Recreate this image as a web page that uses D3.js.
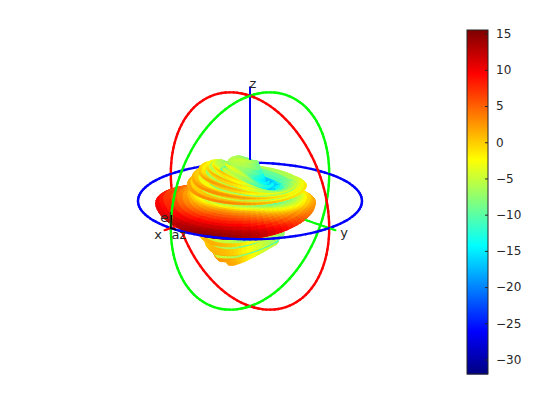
<!DOCTYPE html>
<html>
<head>
<meta charset="utf-8">
<script src="https://d3js.org/d3.v7.min.js"></script>
<style>
body { margin: 0; background: #fff; }
text { font-family: "DejaVu Sans", sans-serif; fill: #262626; }
</style>
</head>
<body>
<div id="chart"></div>
<script>
// Pattern, in dB
const azAngles = d3.range(-180, 180, 5);
// loss below the peak for each azimuth (peak near az 25)
const azLoss = [18.5, 18.7, 18.9, 19, 19, 19, 19, 18.8, 18.6, 18.3, 18, 17.4, 16.8, 16, 15.2, 14.4, 13.6, 12.8, 12, 11, 10, 9, 8, 7, 6.2, 5.6, 5.2, 5, 4.8, 4.6, 4.4, 4.1, 3.7, 3.3, 2.8, 2.3, 1.8, 1.3, .8, .5, .2, 0, .2, .5, .8, 1.4, 2, 3, 4, 5, 6, 7, 7.8, 8.6, 9.3, 10, 10.6, 11.1, 11.5, 11.9, 12.2, 12.4, 12.5, 12.6, 12.7, 13, 13.5, 14.2, 15, 16, 17, 18];
const elAngles = [-90, -87, -84, -81, -78, -75, -72, -69, -66, -63, -60, -57, -54, -51, -48, -45, -42, -39, -36, -33, -30, -27, -24, -21, -18, -15,
    -14, -13, -12, -11, -10, -9, -8, -7, -6, -5, -4, -3, -2, -1, 0, 1, 2, 3, 4, 5, 6, 7, 8, 9, 10, 11, 12, 13, 14, 15, 16, 17, 18, 19,
    20, 21, 22, 23, 24, 25, 26, 27, 28, 29, 30, 31, 32, 33, 34, 35, 36, 37, 38, 39, 40, 41, 42, 43, 44, 45, 46, 47, 48, 49, 50, 51, 52, 53, 54, 55, 56, 57, 58, 59,
    60, 63, 66, 69, 72, 75, 78, 81, 84, 87, 90];
const elPeak = [-12, -12, -12, -12, -12, -8, -2, 2, 3, 1, -12, -2, 3, 2.5, -12, 2, 2.5, 0, -12, 0, 2, 1, -10, -3, 0, -6,
    -8, -14, -14, -14, -14, -6, -2, 2, 6, 8.5, 10.5, 12, 13.5, 14.5, 15, 14.7, 14, 13, 11, 9.5, 8, 6.5, 5, 3.5, 2, 0, -3, -6, -10, -6, 0, 4, 3, -1,
    -8, -1, 3.5, 3, 1, -4, -10, -2, 3, 2, 0, -9, -2, 2, 1, -6, -3, 1, .5, -3, -10, -5, -4, -4, -5, -7, -9, -6, -4, -3, -3, -4, -6, -9, -6, -5, -5, -6, -8, -9,
    -7, -7, -7, -6, -5, -5, -5, -6, -8, -9, -10];
// how the lobes change with elevation
const warpEl = [-90, -60, -30, -10, 0, 13, 17, 22, 28, 33, 37, 45, 60, 72, 90];
const warpSpread = [.5, .6, .7, 1, 1, 1, .35, .4, .55, .75, .9, .9, .7, .2, .2];
const warpShift = [-30, -30, -25, -5, 0, 0, -10, -15, -20, -20, -20, -20, -20, -20, -20];
const warpTilt = [0, 0, 0, 0, 0, 0, 0, 2, 5, 8, 10.5, 12, 5, -8, 0];
// radius of the surface for a dB level, fraction of the ring radius
const radiusDb = [-32, -15, -10, -5, 2, 10, 15.5];
const radiusFrac = [0, .26, .33, .45, .57, .84, 1];
const cbarTicks = [15, 10, 5, 0, -5, -10, -15, -20, -25, -30];
const cbarDomain = [-32, 15.5];
const jetStops = ["#00007f", "#0000ff", "#00ffff", "#ffff00", "#ff0000", "#7f0000"];
const jetAt = [0, 0.125, 0.375, 0.625, 0.875, 1];

const width = 560, height = 420;
const svg = d3.select("#chart").append("svg").attr("width", width).attr("height", height);

// scene scale: sphere radius 1 = 112 px around the origin
const sx = d3.scaleLinear().domain([-1, 1]).range([138, 362]);
const sy = d3.scaleLinear().domain([-1, 1]).range([313, 89]);
const rScale = d3.scaleLinear().domain(radiusDb).range(radiusFrac).clamp(true);
const jet = d3.scaleLinear().domain(jetAt).range(jetStops);
const color = v => jet((v - cbarDomain[0]) / (cbarDomain[1] - cbarDomain[0]));
const spreadAt = d3.scaleLinear().domain(warpEl).range(warpSpread);
const shiftAt = d3.scaleLinear().domain(warpEl).range(warpShift);
const tiltAt = d3.scaleLinear().domain(warpEl).range(warpTilt);

// view az 45, el 20
const rad = Math.PI / 180;
const vAz = 45 * rad, vEl = 20 * rad;
function project(p) {
    const depth = p[0] * Math.cos(vAz) + p[1] * Math.sin(vAz);
    return {
        x: sx(-p[0] * Math.sin(vAz) + p[1] * Math.cos(vAz)),
        y: sy(p[2] * Math.cos(vEl) - depth * Math.sin(vEl)),
        d: depth * Math.cos(vEl) + p[2] * Math.sin(vEl)
    };
}
function sph(az, el, r) {
    return [r * Math.cos(el * rad) * Math.cos(az * rad), r * Math.cos(el * rad) * Math.sin(az * rad), r * Math.sin(el * rad)];
}
const line = d3.line().x(d => d.x).y(d => d.y);

const n = azAngles.length;
function val(i, j) {
    const el = elAngles[i];
    const k = (((j - Math.round(shiftAt(el) / 5)) % n) + n) % n;
    return elPeak[i] - spreadAt(el) * azLoss[k];
}
function node(i, j) {
    const az = azAngles[j % n], el = elAngles[i];
    return project(sph(az, el + tiltAt(el) * Math.cos((az + 45) * rad), rScale(val(i, j))));
}

// everything goes in one list and is painted far to near
const items = [];
elAngles.slice(0, -1).forEach((el, i) => {
    azAngles.forEach((az, j) => {
        const pts = [node(i, j), node(i, j + 1), node(i + 1, j + 1), node(i + 1, j)];
        const v = (val(i, j) + val(i, j + 1) + val(i + 1, j + 1) + val(i + 1, j)) / 4;
        items.push({ pts, depth: d3.mean(pts, p => p.d), col: color(v), w: .6, closed: true });
    });
});
function addLine(points, col, w) {
    d3.pairs(points.map(project)).forEach(p => {
        items.push({ pts: p, depth: d3.mean(p, q => q.d), col, w, closed: false });
    });
}
const ringT = d3.range(0, 361, 3).map(t => [Math.cos(t * rad), Math.sin(t * rad)]);
addLine(ringT.map(c => [0, c[0], c[1]]), "#ff0000", 2.4);
addLine(ringT.map(c => [c[0], 0, c[1]]), "#00ff00", 2.4);
addLine(ringT.map(c => [c[0], c[1], 0]), "#0000ff", 2.4);
const axisT = d3.range(0, 1.08, .03);
addLine(axisT.map(t => [t, 0, 0]), "#ff0000", 2);
addLine(axisT.map(t => [0, t, 0]), "#00ff00", 2);
addLine(axisT.map(t => [0, 0, t]), "#0000ff", 2);

items.sort((a, b) => a.depth - b.depth);
svg.append("g").selectAll("path").data(items).join("path")
    .attr("d", d => line(d.pts) + (d.closed ? "Z" : ""))
    .attr("fill", d => d.closed ? d.col : "none")
    .attr("stroke", d => d.col)
    .attr("stroke-width", d => d.w)
    .attr("stroke-linecap", "round");

// small az / el marks at the tip of the x axis
svg.append("path")
    .attr("d", line([sph(0, 7, 1), sph(0, 0, 1), sph(4, 0, 1)].map(project)))
    .attr("fill", "none").attr("stroke", "#000").attr("stroke-width", 1.5);

// axis labels
const labels = [["x", 158, 239], ["y", 344, 237], ["z", 253, 88], ["az", 179, 239], ["el", 166, 222]];
svg.append("g").selectAll("text").data(labels).join("text")
    .attr("x", d => d[1]).attr("y", d => d[2])
    .attr("font-size", 13).attr("text-anchor", "middle")
    .text(d => d[0]);

// colour bar
const cy = d3.scaleLinear().domain(cbarDomain).range([374, 30]);
const cbar = svg.append("g");
cbar.selectAll("rect").data(d3.range(0, 172)).join("rect")
    .attr("x", 467).attr("width", 21)
    .attr("y", d => cy(cbarDomain[0] + (d + 1) / 172 * (cbarDomain[1] - cbarDomain[0])))
    .attr("height", 2.5)
    .attr("fill", d => jet((d + .5) / 172));
cbar.append("rect").attr("x", 467).attr("y", 30).attr("width", 21).attr("height", 344)
    .attr("fill", "none").attr("stroke", "#262626").attr("stroke-width", 1);
const axis = d3.axisRight(cy).tickValues(cbarTicks).tickSize(-3).tickPadding(8);
const ag = svg.append("g").attr("transform", "translate(488,0)").call(axis);
ag.select(".domain").remove();
ag.selectAll("line").attr("stroke", "#262626");
ag.selectAll("text").attr("font-size", 12).attr("font-family", '"DejaVu Sans", sans-serif').attr("fill", "#262626");
</script>
</body>
</html>
